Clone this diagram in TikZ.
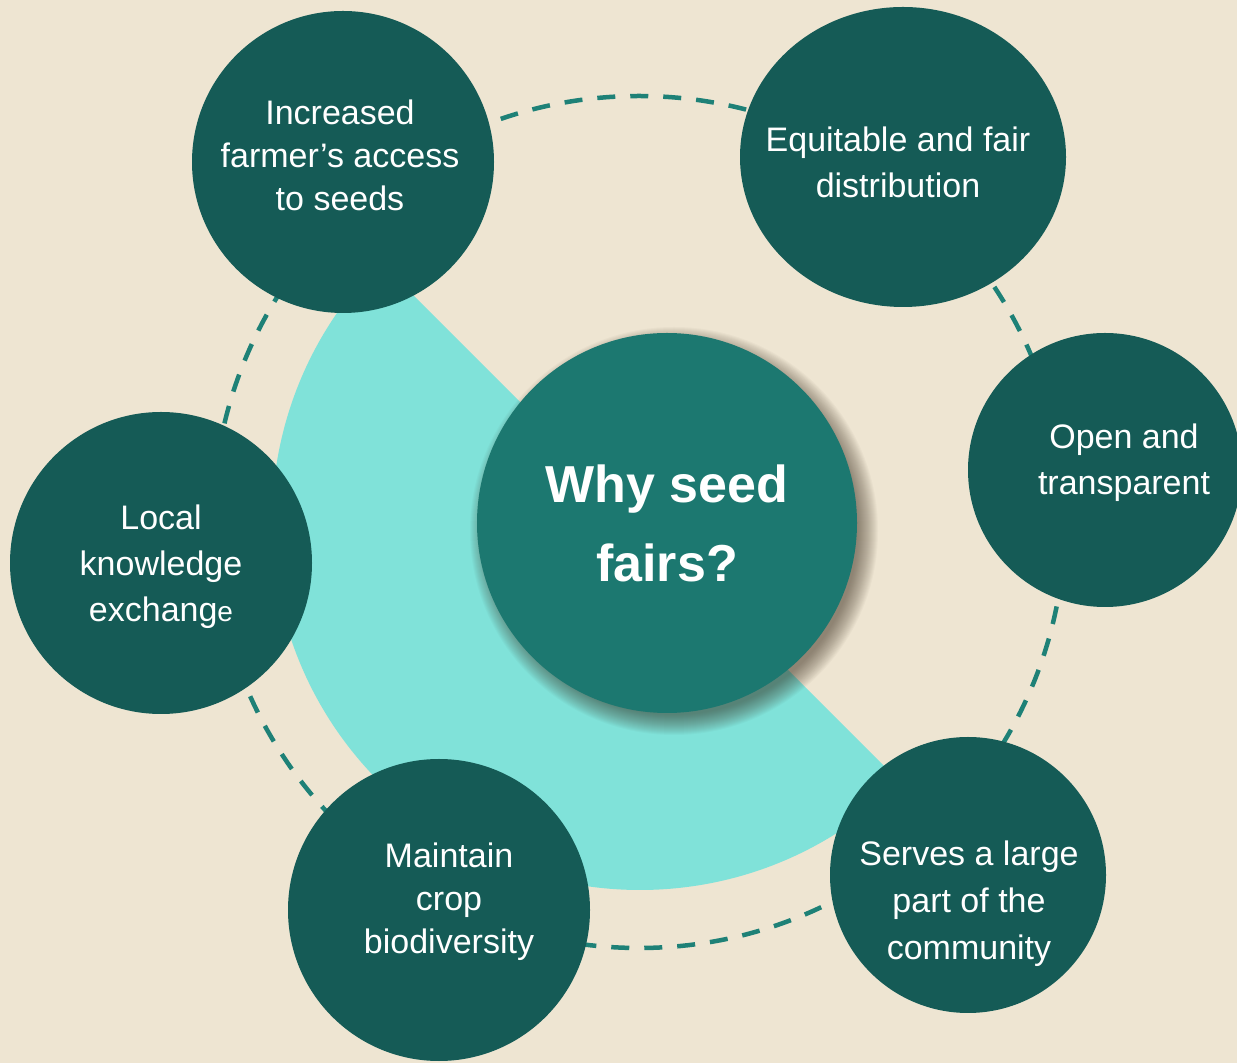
\documentclass[tikz,border=0pt]{standalone}
\usepackage{fontspec}
\setmainfont{Liberation Sans}
\usetikzlibrary{shapes.geometric}
\definecolor{bgc}{HTML}{EEE5D2}
\definecolor{darkc}{HTML}{155B56}
\definecolor{centc}{HTML}{1C7870}
\definecolor{cyanc}{HTML}{80E2D9}
\definecolor{dashc}{HTML}{1E8177}
\definecolor{shadc}{HTML}{3A2E20}
\begin{document}
\begin{tikzpicture}[x=1pt,y=1pt,
  bubble/.style={circle, fill=darkc, inner sep=0pt},
  lbl/.style={text=white, align=center, anchor=base, inner sep=0pt},
  ring/.style={draw=dashc, line width=4.5pt, dash pattern=on 18pt off 15pt}]
\useasboundingbox (0,0) rectangle (1237,1063);
\clip (0,0) rectangle (1237,1063);
\fill[bgc] (0,0) rectangle (1237,1063);
\coordinate (c) at (639,541);
\draw[ring] (c) circle[radius=426];
\fill[cyanc] (640,541) -- ++(135:368) arc[start angle=135,end angle=315,radius=368] -- cycle;

\node[bubble, minimum size=302pt] (inc) at (343,901) {};
\node[ellipse, fill=darkc, inner sep=0pt, minimum width=326pt, minimum height=300pt] (equ) at (903,906) {};
\node[bubble, minimum size=274pt] (open) at (1105,593) {};
\node[bubble, minimum size=276pt] (serv) at (968,188) {};
\node[bubble, minimum size=302pt] (main) at (439,153) {};
\node[bubble, minimum size=302pt] (loc) at (161,500) {};
\coordinate (shc) at (674,532);
\foreach \r in {184,185,...,204}{
  \fill[shadc, opacity=0.03] (shc) circle[radius=\r];
}
\node[circle, fill=centc, inner sep=0pt, minimum size=380pt] (cen) at (667,540) {};

\node[lbl, font=\fontsize{34}{43}\selectfont] (tinc) at (340,852) {Increased\\farmer’s access\\to seeds};
\node[lbl, font=\fontsize{34}{46}\selectfont] (tequ) at (898,865) {Equitable and fair\\distribution};
\node[lbl, font=\fontsize{34}{46}\selectfont] (topen) at (1124,568) {Open and\\transparent};
\node[lbl, font=\fontsize{34}{47}\selectfont] (tserv) at (969,103) {Serves a large\\part of the\\community};
\node[lbl, font=\fontsize{34}{43}\selectfont] (tmain) at (449,109) {Maintain\\crop\\biodiversity};
\node[lbl, font=\fontsize{34}{46}\selectfont] (tloc) at (161,441) {Local\\knowledge\\exchang{\fontsize{28}{28}\selectfont e}};
\node[lbl, font=\fontsize{52}{79}\bfseries\selectfont] (tcen) at (667,481) {Why seed\\fairs?};
\end{tikzpicture}
\end{document}
